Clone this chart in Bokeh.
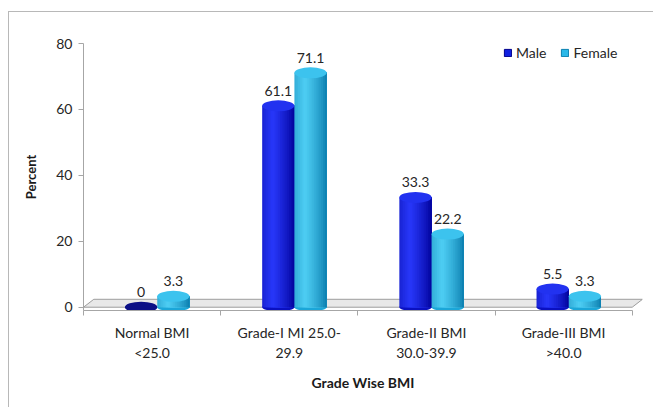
from bokeh.plotting import figure
from bokeh.models import Range1d, FixedTicker, Legend, LegendItem
from bokeh.core.properties import value
from bokeh.embed import file_html
from bokeh.resources import INLINE

# ---- data ----
categories = ["Normal BMI\n<25.0", "Grade-I MI 25.0-\n29.9", "Grade-II BMI\n30.0-39.9", "Grade-III BMI\n>40.0"]
male = [0, 61.1, 33.3, 5.5]
female = [3.3, 71.1, 22.2, 3.3]
series_names = ["Male", "Female"]
y_ticks = [0, 20, 40, 60, 80]
x_title = "Grade Wise BMI"
y_title = "Percent"

# ---- style ----
FONT = "Lato"
TXT = "#262626"
GRAY = "#a6a6a6"
BW = 0.235
OFFSETS = [-0.08, 0.155]
STYLES = [
    dict(dark=(0, 0, 150), light=(40, 56, 250), top="#2232f0", zero="#0b0f86", bottom="#0a10c0",
         legend="#1020e0", legend_line="#00008c"),
    dict(dark=(8, 122, 172), light=(78, 206, 244), top="#3cc3ee", zero="#0b7fb0", bottom="#1ba6d8",
         legend="#2ab8e8", legend_line="#0a80b0"),
]
N_STRIPS = 18

n = len(categories)
centers = [i + 0.5 for i in range(n)]
boundaries = [float(i) for i in range(n + 1)]

p = figure(width=645, height=396, output_backend="svg", toolbar_location=None,
           x_range=Range1d(0, n + 0.075), y_range=Range1d(-1, 80),
           min_border_left=74, min_border_right=12, min_border_top=31, min_border_bottom=98)
p.styles = {"margin-left": "8px", "margin-top": "11px",
            "border-left": "1px solid #b8b8b8", "border-top": "1px solid #b8b8b8"}
p.outline_line_color = None
p.xgrid.visible = False
p.ygrid.visible = False
p.background_fill_color = "white"
p.border_fill_color = "white"

# floor
fdx, fdy = 0.075, 2.4
p.patch(x=[0, n, n + fdx, fdx], y=[0, 0, fdy, fdy], fill_color="#e8e8e8",
        line_color="#9c9c9c", line_width=1)


def mix(dark, light, t):
    w = max(0.0, 1 - abs(t - 0.33) / 0.67) ** 0.75
    c = [int(round(d + (l - d) * w)) for d, l in zip(dark, light)]
    return "#%02x%02x%02x" % tuple(c)


legend_items = []
for s, (name, vals) in enumerate(zip(series_names, [male, female])):
    st = STYLES[s]
    xs = [c + OFFSETS[s] for c in centers]
    # bottom rounding
    p.ellipse(x=xs, y=[0] * n, width=BW, height=8, height_units="screen",
              fill_color=st["bottom"], line_color=None)
    for k in range(N_STRIPS):
        t = (k + 0.5) / N_STRIPS
        p.quad(left=[x - BW / 2 + k * BW / N_STRIPS for x in xs],
               right=[x + BW / 2 for x in xs], top=vals, bottom=[0] * n,
               fill_color=mix(st["dark"], st["light"], t), line_color=None)
    tops = [st["zero"] if v == 0 else st["top"] for v in vals]
    p.ellipse(x=xs, y=vals, width=BW, height=11, height_units="screen",
              fill_color=tops, line_color=None)
    p.text(x=xs, y=vals, text=[f"{v:g}" for v in vals], text_align="center",
           text_baseline="alphabetic", y_offset=-15, text_font=value(FONT),
           text_font_size="14px", text_color=TXT)
    # legend swatch renderer (placed outside the visible range)
    lr = p.quad(left=[-9], right=[-8], top=[1], bottom=[0], fill_color=st["legend"],
                line_color=st["legend_line"])
    legend_items.append(LegendItem(label=name, renderers=[lr]))

legend = Legend(items=legend_items, orientation="horizontal", location=(420, 249))
legend.glyph_width = 9
legend.glyph_height = 9
legend.label_text_font = FONT
legend.label_text_font_size = "14px"
legend.label_text_color = TXT
legend.label_standoff = 4
legend.spacing = 14
legend.padding = 0
legend.margin = 0
legend.label_height = 14
legend.border_line_color = None
legend.background_fill_alpha = 0
p.add_layout(legend)

# y axis
p.yaxis.ticker = FixedTicker(ticks=y_ticks)
p.yaxis.axis_label = y_title
p.yaxis.axis_label_text_font = FONT
p.yaxis.axis_label_text_font_style = "bold"
p.yaxis.axis_label_text_font_size = "13px"
p.yaxis.axis_label_text_color = "#1a1a1a"
p.yaxis.axis_label_standoff = 14
p.yaxis.major_label_text_font = FONT
p.yaxis.major_label_text_font_size = "14px"
p.yaxis.major_label_text_color = TXT
p.yaxis.major_label_standoff = 6
p.yaxis.axis_line_color = GRAY
p.yaxis.major_tick_line_color = GRAY
p.yaxis.major_tick_out = 5
p.yaxis.major_tick_in = 0
p.yaxis.minor_tick_line_color = None
p.yaxis.bounds = (-1, 80)

# x axis
p.xaxis.ticker = FixedTicker(ticks=centers, minor_ticks=boundaries)
p.xaxis.major_label_overrides = {c: lab for c, lab in zip(centers, categories)}
p.xaxis.bounds = (0, n)
p.xaxis.axis_label = x_title
p.xaxis.axis_label_text_font = FONT
p.xaxis.axis_label_text_font_style = "bold"
p.xaxis.axis_label_text_font_size = "14px"
p.xaxis.axis_label_text_color = "#1a1a1a"
p.xaxis.axis_label_standoff = 10
p.xaxis.major_label_text_font = FONT
p.xaxis.major_label_text_font_size = "14px"
p.xaxis.major_label_text_color = TXT
p.xaxis.major_label_standoff = 7
p.xaxis.axis_line_color = GRAY
p.xaxis.major_tick_line_color = None
p.xaxis.minor_tick_line_color = GRAY
p.xaxis.minor_tick_out = 5
p.xaxis.minor_tick_in = 0

open("out.html", "w").write(file_html(p, INLINE))
